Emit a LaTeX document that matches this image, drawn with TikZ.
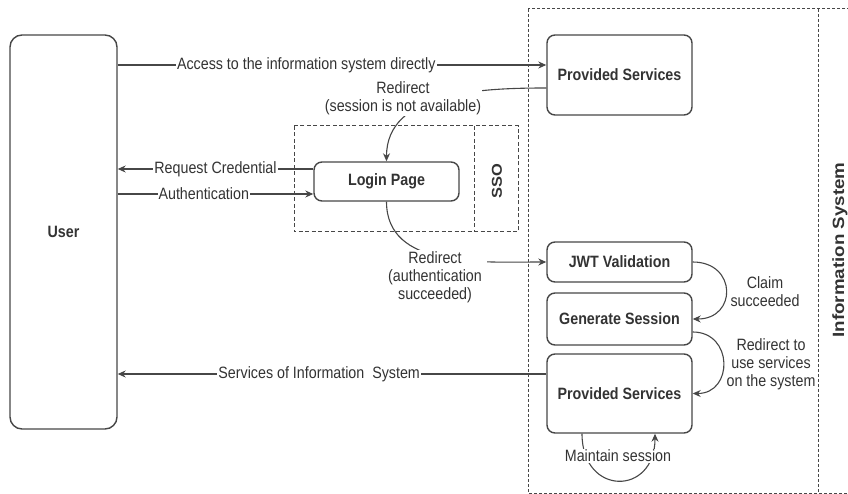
\documentclass[tikz,border=0pt]{standalone}
\usepackage{fontspec}
\setmainfont{Liberation Sans}[FakeStretch=0.87]
\newfontfamily\rotfont{Liberation Sans}[FakeStretch=1.15]
\usetikzlibrary{arrows.meta,calc}
\definecolor{ln}{HTML}{474747}
\definecolor{tx}{HTML}{333333}
\begin{document}
\begin{tikzpicture}[x=1pt,y=-1pt,
  box/.style={draw=ln, line width=1.4pt, rounded corners=8pt, fill=white, inner sep=0pt,
    font=\fontsize{16.4}{18}\selectfont\bfseries, text=tx},
  lbl/.style={font=\fontsize{16.4}{18}\selectfont, text=tx, fill=white, inner sep=1pt, align=center},
  conn/.style={draw=ln, line width=1.1pt},
  arr/.style={conn, -{Stealth[length=8pt,width=7pt]}},
  dashbox/.style={draw=ln, line width=1pt, dash pattern=on 3pt off 2pt},
  title/.style={text=tx, rotate=90}
]
\useasboundingbox (0,0) rectangle (848,494);
\begin{scope}
\clip (0,0) rectangle (848,494);
% containers
\draw[dashbox] (528,9) rectangle (880,493);
\draw[dashbox] (818,9) -- (818,493);
\draw[dashbox, dash pattern=on 4pt off 2.5pt] (294,126) rectangle (518,232);
\draw[dashbox, dash pattern=on 4pt off 2.5pt] (474,126) -- (474,232);
\end{scope}
\node[title, font=\rotfont\fontsize{16.3}{18}\selectfont\bfseries] (istitle) at (840,250) {Information System};
\node[title, font=\rotfont\fontsize{14.3}{18}\selectfont\bfseries] (ssotitle) at (497,181.5) {SSO};

% nodes
\node[box, rounded corners=12pt, minimum width=107pt, minimum height=394pt] (user) at (63.5,232) {User};
\node[box, minimum width=145pt, minimum height=80pt] (ps1) at (619.5,75) {Provided Services};
\node[box, minimum width=145pt, minimum height=39pt] (login) at (386.5,181.5) {Login Page};
\node[box, minimum width=145pt, minimum height=40pt] (jwt) at (619.5,262) {JWT Validation};
\node[box, minimum width=145pt, minimum height=52pt] (gs) at (619.5,319) {Generate Session};
\node[box, minimum width=145pt, minimum height=79pt] (ps2) at (619.5,393.5) {Provided Services};

% helper levels
\coordinate (yAcc) at (0,65);
\coordinate (yRed) at (0,88);
\coordinate (yReq) at (0,169);
\coordinate (yAut) at (0,194);
\coordinate (yGs) at (0,332);
\coordinate (ySrv) at (0,374);
\coordinate (xM1) at (582,0);
\coordinate (xM2) at (655,0);

% connectors
\draw[arr] (user.east |- yAcc) -- (ps1.west |- yAcc)
  node[lbl, pos=0.44] (lacc) {Access to the information system directly};
\draw[arr] (ps1.west |- yRed) to[out=180,in=90] (login.north);
\node[lbl] (lred1) at (403,98) {Redirect\\(session is not available)};
\draw[arr] (login.west |- yReq) -- (user.east |- yReq)
  node[lbl, pos=0.5] (lreq) {Request Credential};
\draw[arr] (user.east |- yAut) -- (login.west |- yAut)
  node[lbl, pos=0.44] (laut) {Authentication};
\draw[arr] (login.south) to[out=-90,in=180] (jwt.west);
\node[lbl, inner xsep=5pt] (lred2) at (435,277) {Redirect\\(authentication\\succeeded)};
\draw[arr] (jwt.east) to[out=0,in=0,looseness=2] (gs.east);
\node[lbl] (lclaim) at (765,292) {Claim\\succeeded};
\draw[arr] (gs.east |- yGs) to[out=0,in=0,looseness=1.7] (ps2.east);
\node[lbl] (lredto) at (771,364) {Redirect to\\use services\\on the system};
\draw[arr] (ps2.west |- ySrv) -- (user.east |- ySrv)
  node[lbl, pos=0.53] (lsrv) {Services of Information\ \ System};
\draw[arr] (ps2.south -| xM1) to[out=-90,in=-90,looseness=2.2] (ps2.south -| xM2);
\node[lbl] (lmaint) at (618,456) {Maintain session};
\end{tikzpicture}
\end{document}
